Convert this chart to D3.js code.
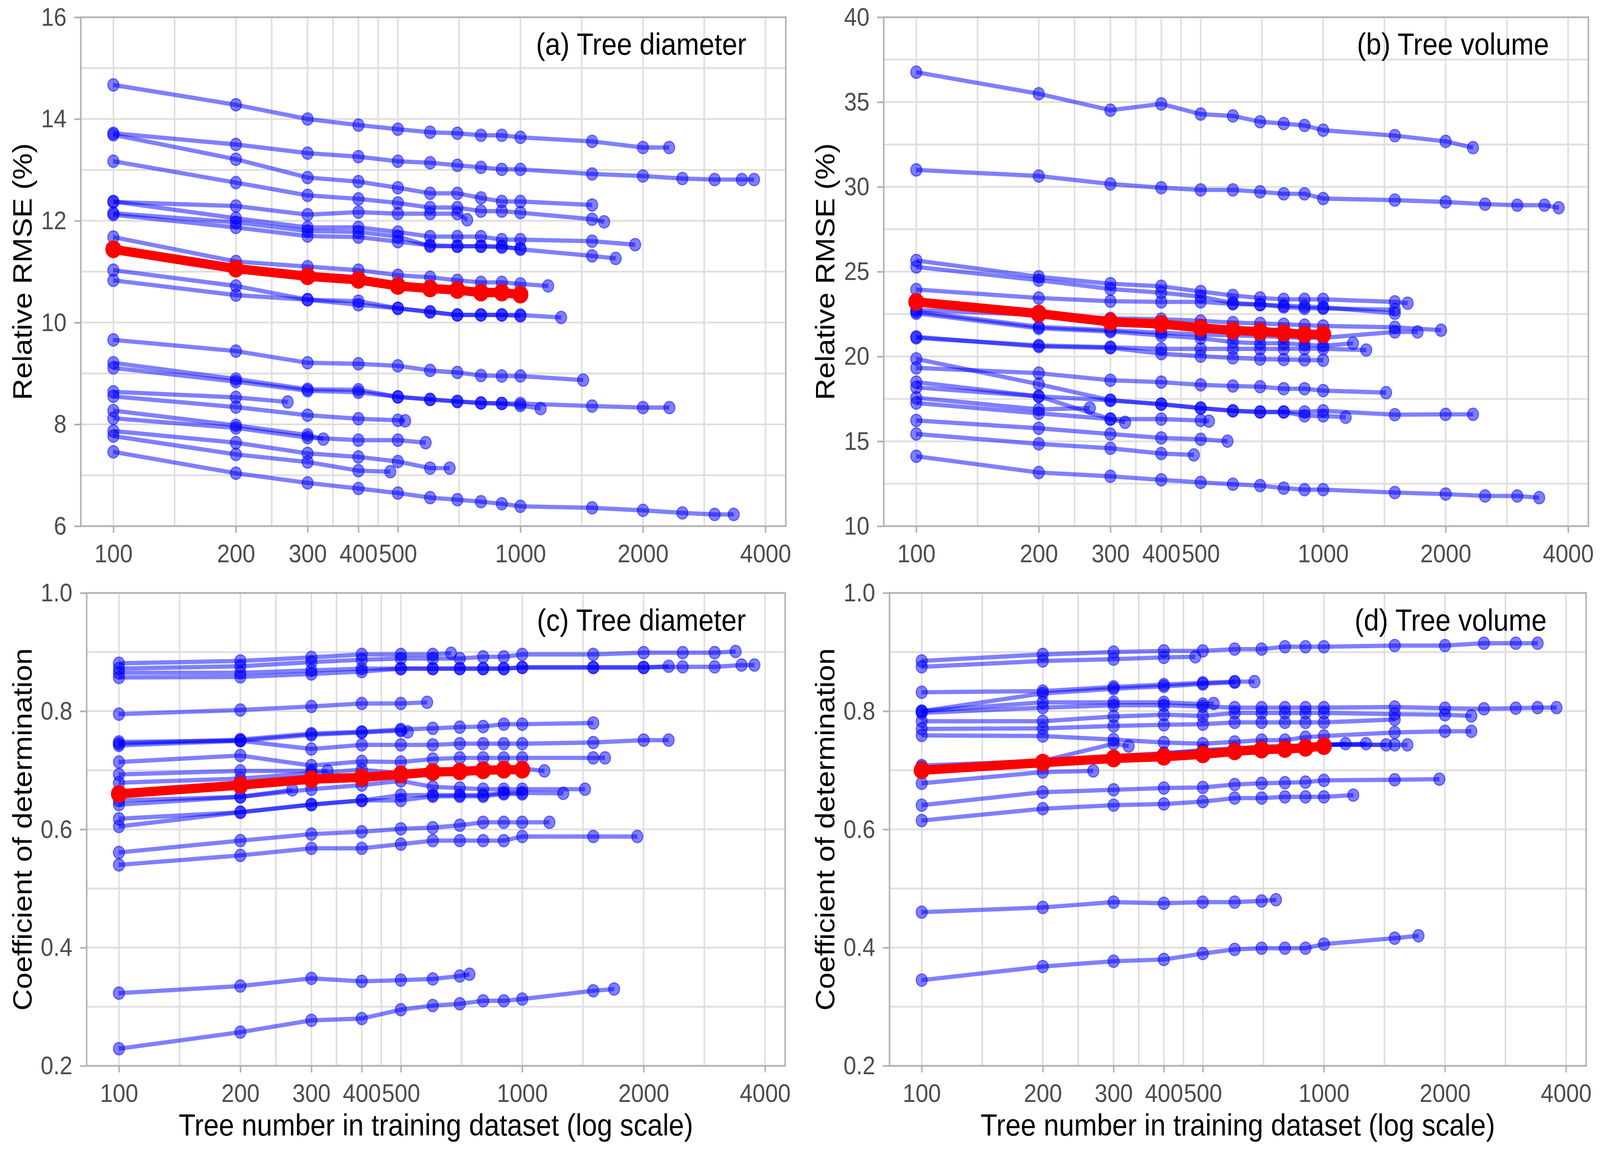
<!DOCTYPE html>
<html><head><meta charset="utf-8">
<script src="https://cdn.jsdelivr.net/npm/d3@7"></script>
<style>html,body{margin:0;padding:0;background:#fff;overflow:hidden;width:100%;height:100%;}svg{display:block;width:100vw;height:71.75vw;}</style>
</head><body><svg id="chart"></svg>
<script>
// ---------------- DATA ----------------
const baseSizes = [100,200,300,400,500,600,700,800,900,1000];
const xTickValues = [100,200,300,400,500,1000,2000,4000];
const rmseDiamTicks = [6,8,10,12,14,16];
const rmseVolTicks = [10,15,20,25,30,35,40];
const r2Ticks = [0.2,0.4,0.6,0.8,1.0];

// (a) relative RMSE, tree diameter: v = values at baseSizes, end = extra [n, value] points
const diamRMSE = [
 {v:[14.67,14.28,14.00,13.88,13.80,13.74,13.72,13.68,13.68,13.64], end:[[1500,13.56],[2000,13.44],[2320,13.44]]},
 {v:[13.72,13.50,13.33,13.26,13.17,13.14,13.09,13.05,13.01,13.01], end:[[1500,12.92],[2000,12.88],[2500,12.83],[3000,12.81],[3500,12.81],[3750,12.81]]},
 {v:[13.69,13.21,12.85,12.77,12.65,12.54,12.54,12.45,12.38,12.38], end:[[1500,12.31]]},
 {v:[13.17,12.75,12.50,12.43,12.35,12.26,12.26,12.19,12.19,12.16], end:[[1500,12.03],[1606,11.98]]},
 {v:[12.37,12.29,12.12,12.17,12.14,12.14,12.14], end:[[740,12.02]]},
 {v:[12.38,12.05,11.87,11.87,11.78,11.69,11.69,11.69,11.63,11.63], end:[[1500,11.60],[1914,11.53]]},
 {v:[12.15,11.97,11.80,11.78,11.69,11.50,11.50,11.50,11.50,11.44], end:[[1500,11.31],[1714,11.26]]},
 {v:[12.12,11.87,11.70,11.68,11.59,11.52,11.50,11.50,11.48,11.46], end:[]},
 {v:[11.68,11.20,11.10,11.03,10.93,10.89,10.83,10.79,10.79,10.76], end:[[1170,10.72]]},
 {v:[11.03,10.72,10.45,10.42,10.28,10.21,10.15,10.15,10.15,10.15], end:[[1259,10.10]]},
 {v:[10.83,10.54,10.45,10.35,10.28,10.21,10.15,10.15,10.15,10.13], end:[]},
 {v:[9.66,9.44,9.21,9.19,9.15,9.06,9.02,8.96,8.95,8.95], end:[[1426,8.87]]},
 {v:[9.21,8.89,8.69,8.68,8.54,8.49,8.45,8.42,8.41,8.41], end:[[1500,8.36],[2000,8.33],[2323,8.33]]},
 {v:[9.11,8.84,8.66,8.63,8.54,8.49,8.45,8.42,8.41,8.37], end:[[1121,8.31]]},
 {v:[8.64,8.53], end:[[268,8.44]]},
 {v:[8.55,8.34,8.18,8.11,8.08], end:[[521,8.07]]},
 {v:[8.27,7.98,7.79], end:[[328,7.71]]},
 {v:[8.12,7.93,7.74,7.69,7.69], end:[[585,7.64]]},
 {v:[7.87,7.64,7.43,7.36,7.27,7.14], end:[[670,7.14]]},
 {v:[7.77,7.41,7.26,7.09], end:[[479,7.07]]},
 {v:[7.46,7.04,6.85,6.74,6.65,6.56,6.52,6.48,6.44,6.39], end:[[1500,6.36],[2000,6.31],[2500,6.26],[3000,6.23],[3342,6.23]]}
];
const diamRMSEMean = [11.44,11.06,10.91,10.84,10.72,10.67,10.64,10.59,10.59,10.55];

// (b) relative RMSE, tree volume
const volRMSE = [
 {v:[36.76,35.49,34.52,34.89,34.29,34.18,33.84,33.73,33.62,33.34], end:[[1500,33.02],[2000,32.68],[2335,32.31]]},
 {v:[31.00,30.64,30.17,29.95,29.82,29.82,29.71,29.59,29.59,29.31], end:[[1500,29.22],[2000,29.11],[2500,28.98],[3000,28.92],[3500,28.92],[3793,28.77]]},
 {v:[25.66,24.70,24.29,24.14,23.83,23.60,23.45,23.37,23.37,23.37], end:[[1500,23.22],[1613,23.14]]},
 {v:[25.28,24.50,23.98,23.76,23.53,23.15,23.07,22.92,22.84,22.84], end:[[1500,22.76]]},
 {v:[23.95,23.45,23.26,23.22,23.22,23.10,23.05,23.00,22.95,22.90], end:[[1500,22.55]]},
 {v:[22.75,22.45,22.25,22.20,22.10,22.00,21.95,21.90,21.85,21.80], end:[[1500,21.72],[1949,21.55]]},
 {v:[22.65,21.75,21.55,21.40,21.30,21.25,21.20,21.15,21.10,21.10], end:[[1500,21.45],[1706,21.45]]},
 {v:[22.55,21.66,21.47,21.24,21.08,20.85,20.78,20.78,20.70,20.63], end:[[1184,20.78]]},
 {v:[21.16,20.59,20.51,20.17,20.02,19.92,19.85,19.82,19.80,19.78], end:[]},
 {v:[21.10,20.65,20.55,20.45,20.45,20.45,20.45,20.45,20.46,20.46], end:[[1276,20.38]]},
 {v:[19.33,19.02,18.60,18.49,18.33,18.26,18.22,18.10,18.10,17.99], end:[[1428,17.87]]},
 {v:[19.86,18.37,17.42,17.19,16.96,16.80,16.73,16.73,16.73,16.80], end:[[1500,16.57],[2000,16.59],[2335,16.59]]},
 {v:[18.49,17.65,17.42,17.19,16.96,16.80,16.73,16.73,16.50,16.50], end:[[1136,16.42]]},
 {v:[18.18,17.65,16.31,16.31,16.23], end:[[524,16.19]]},
 {v:[17.57,16.88], end:[[267,16.96]]},
 {v:[17.26,16.65,16.31], end:[[326,16.12]]},
 {v:[16.23,15.77,15.43,15.20,15.12], end:[[582,15.01]]},
 {v:[15.43,14.85,14.59,14.28], end:[[481,14.20]]},
 {v:[14.12,13.16,12.94,12.73,12.58,12.47,12.39,12.24,12.15,12.15], end:[[1500,11.98],[2000,11.89],[2500,11.78],[3000,11.78],[3396,11.68]]}
];
const volRMSEMean = [23.22,22.53,22.04,21.92,21.69,21.54,21.47,21.39,21.31,21.31];

// (c) coefficient of determination, tree diameter
const diamR2 = [
 {v:[0.881,0.885,0.891,0.896,0.896,0.896], end:[[666,0.898]]},
 {v:[0.872,0.876,0.883,0.887,0.889,0.889,0.889,0.892,0.892,0.896], end:[[1500,0.896],[2000,0.899],[2500,0.899],[3000,0.899],[3381,0.901]]},
 {v:[0.865,0.865,0.869,0.872,0.872,0.872,0.872,0.872,0.872,0.874], end:[[1500,0.874],[2000,0.874],[2307,0.876]]},
 {v:[0.857,0.858,0.863,0.867,0.872,0.872,0.872,0.872,0.872,0.874], end:[[1500,0.874],[2000,0.874],[2500,0.875],[3000,0.875],[3497,0.878],[3764,0.878]]},
 {v:[0.795,0.802,0.808,0.813,0.813], end:[[581,0.815]]},
 {v:[0.745,0.752,0.762,0.765,0.769,0.771,0.773,0.774,0.778,0.778], end:[[1500,0.780]]},
 {v:[0.748,0.750,0.760,0.764,0.767], end:[[520,0.765]]},
 {v:[0.742,0.750,0.736,0.743,0.743,0.743,0.745,0.745,0.745,0.745], end:[[1500,0.747],[2000,0.751],[2307,0.751]]},
 {v:[0.714,0.725,0.708,0.715,0.714,0.719,0.721,0.721,0.721,0.721], end:[[1500,0.721],[1604,0.721]]},
 {v:[0.693,0.699,0.699], end:[[329,0.699]]},
 {v:[0.679,0.686,0.695,0.701,0.695,0.697,0.698,0.700,0.701,0.703], end:[[1135,0.699]]},
 {v:[0.649,0.655], end:[[269,0.667]]},
 {v:[0.642,0.655,0.668,0.675,0.682,0.672,0.670,0.668,0.668,0.668], end:[[1431,0.668]]},
 {v:[0.618,0.629,0.642,0.649,0.658,0.658,0.658,0.658,0.662,0.662], end:[[1264,0.661]]},
 {v:[0.605,0.629,0.642,0.649,0.649,0.656,0.656,0.656,0.660,0.660], end:[]},
 {v:[0.561,0.581,0.592,0.596,0.601,0.603,0.607,0.612,0.612,0.612], end:[[1168,0.612]]},
 {v:[0.540,0.556,0.568,0.568,0.575,0.581,0.581,0.581,0.581,0.588], end:[[1500,0.588],[1929,0.588]]},
 {v:[0.323,0.335,0.348,0.343,0.345,0.347,0.352], end:[[740,0.355]]},
 {v:[0.229,0.257,0.277,0.280,0.295,0.302,0.305,0.310,0.310,0.313], end:[[1500,0.327],[1690,0.330]]}
];
const diamR2Mean = [0.660,0.675,0.685,0.688,0.693,0.697,0.698,0.700,0.701,0.701];

// (d) coefficient of determination, tree volume
const volR2 = [
 {v:[0.885,0.896,0.900,0.902,0.902,0.905,0.905,0.909,0.909,0.909], end:[[1500,0.911],[2000,0.911],[2500,0.915],[3000,0.915],[3400,0.915]]},
 {v:[0.875,0.885,0.888,0.891], end:[[479,0.892]]},
 {v:[0.832,0.834,0.841,0.845,0.848,0.850], end:[[672,0.850]]},
 {v:[0.800,0.830,0.838,0.842,0.846,0.849], end:[]},
 {v:[0.800,0.815,0.815,0.815,0.812], end:[[532,0.813]]},
 {v:[0.797,0.806,0.810,0.810,0.808,0.806,0.806,0.806,0.806,0.806], end:[[1500,0.807],[2000,0.805],[2500,0.804],[3000,0.805],[3400,0.806],[3788,0.806]]},
 {v:[0.783,0.783,0.791,0.794,0.792,0.797,0.797,0.797,0.797,0.797], end:[[1500,0.795],[2000,0.794],[2326,0.792]]},
 {v:[0.770,0.771,0.775,0.777,0.778,0.781,0.781,0.781,0.781,0.781], end:[[1500,0.786]]},
 {v:[0.759,0.758,0.752,0.747,0.745,0.748,0.751,0.751,0.756,0.758], end:[[1500,0.764],[2000,0.766],[2326,0.766]]},
 {v:[0.708,0.716,0.745], end:[[327,0.741]]},
 {v:[0.700,0.713,0.721,0.724,0.730,0.733,0.736,0.738,0.740,0.742], end:[[1132,0.745]]},
 {v:[0.702,0.712,0.720,0.726,0.731,0.735,0.737,0.740,0.741,0.743], end:[[1273,0.745]]},
 {v:[0.698,0.715,0.722,0.728,0.733,0.736,0.739,0.740,0.742,0.743], end:[[1428,0.743]]},
 {v:[0.705,0.716,0.724,0.729,0.734,0.737,0.740,0.741,0.742,0.744], end:[[1500,0.743],[1613,0.743]]},
 {v:[0.678,0.697], end:[[267,0.699]]},
 {v:[0.641,0.663,0.667,0.670,0.671,0.676,0.678,0.679,0.680,0.683], end:[[1500,0.684],[1937,0.685]]},
 {v:[0.615,0.635,0.641,0.643,0.647,0.653,0.653,0.655,0.655,0.655], end:[[1183,0.658]]},
 {v:[0.460,0.468,0.477,0.475,0.477,0.477,0.479], end:[[760,0.481]]},
 {v:[0.345,0.368,0.377,0.380,0.390,0.397,0.399,0.399,0.399,0.406], end:[[1500,0.416],[1719,0.420]]}
];
const volR2Mean = [0.700,0.713,0.720,0.723,0.727,0.732,0.735,0.736,0.738,0.741];

// ---------------- LAYOUT ----------------
const W = 4146, H = 2963;
const S = 0.9;            // horizontal squeeze of the original raster
const FONT = "'Liberation Sans', Arial, Helvetica, sans-serif";
const svg = d3.select('#chart')
  .attr('viewBox', `0 0 ${W/S} ${H}`)
  .attr('preserveAspectRatio', 'none');
svg.append('rect').attr('width', W/S).attr('height', H).attr('fill', '#fff');

const xDomain = [Math.pow(10,1.92), Math.pow(10,3.652)];
const minorOf = t => t.slice(1).map((d,i) => Math.sqrt(d*t[i]));
const midOf = t => t.slice(1).map((d,i) => (d+t[i])/2);

const panels = [
 {data:diamRMSE, mean:diamRMSEMean, yDom:[6,16], yTicks:rmseDiamTicks, fmt:d3.format('d'),
  x0:209.4, x1:2036.2, y0:44.5, y1:1358.5, title:'(a) Tree diameter', ytitle:'Relative RMSE (%)', ytx:58, xtitle:false},
 {data:volRMSE, mean:volRMSEMean, yDom:[10,40], yTicks:rmseVolTicks, fmt:d3.format('d'),
  x0:2290, x1:4116, y0:44.5, y1:1358.5, title:'(b) Tree volume', ytitle:'Relative RMSE (%)', ytx:2138, xtitle:false},
 {data:diamR2, mean:diamR2Mean, yDom:[0.2,1.0], yTicks:r2Ticks, fmt:d3.format('.1f'),
  x0:224.6, x1:2034.6, y0:1531, y1:2752, title:'(c) Tree diameter', ytitle:'Coefficient of determination', ytx:58, xtitle:true},
 {data:volR2, mean:volR2Mean, yDom:[0.2,1.0], yTicks:r2Ticks, fmt:d3.format('.1f'),
  x0:2305, x1:4110, y0:1531, y1:2752, title:'(d) Tree volume', ytitle:'Coefficient of determination', ytx:2138, xtitle:true}
];

const toPts = s => baseSizes.slice(0, s.v.length).map((n,i) => [n, s.v[i]]).concat(s.end || []);

panels.forEach(p => {
  const x = d3.scaleLog().domain(xDomain).range([p.x0/S, p.x1/S]);
  const y = d3.scaleLinear().domain(p.yDom).range([p.y1, p.y0]);
  const g = svg.append('g');
  const L = p.x0/S, R = p.x1/S;

  // grid
  const grid = g.append('g').attr('stroke', '#dedede').attr('stroke-width', 4.5);
  midOf(p.yTicks).concat(p.yTicks).forEach(v => {
    grid.append('line').attr('x1', L).attr('x2', R).attr('y1', y(v)).attr('y2', y(v));
  });
  minorOf(xTickValues).concat(xTickValues).filter(v => v > xDomain[0] && v < xDomain[1]).forEach(v => {
    grid.append('line').attr('x1', x(v)).attr('x2', x(v)).attr('y1', p.y0).attr('y2', p.y1);
  });

  // series
  const clip = 'clip' + p.title.charAt(1);
  svg.append('clipPath').attr('id', clip).append('rect')
    .attr('x', L).attr('y', p.y0).attr('width', R - L).attr('height', p.y1 - p.y0);
  const data = g.append('g').attr('clip-path', `url(#${clip})`);
  const line = d3.line().x(d => x(d[0])).y(d => y(d[1]));
  p.data.forEach(s => {
    const pts = toPts(s);
    data.append('path').datum(pts).attr('d', line)
      .attr('fill', 'none').attr('stroke', 'blue').attr('stroke-opacity', 0.5)
      .attr('stroke-width', 11).attr('stroke-linejoin', 'round');
    data.selectAll(null).data(pts).enter().append('circle')
      .attr('cx', d => x(d[0])).attr('cy', d => y(d[1])).attr('r', 16)
      .attr('fill', 'blue').attr('fill-opacity', 0.5)
      .attr('stroke', 'blue').attr('stroke-opacity', 0.5).attr('stroke-width', 3);
  });
  const meanPts = p.mean.map((v,i) => [baseSizes[i], v]);
  data.append('path').datum(meanPts).attr('d', line)
    .attr('fill', 'none').attr('stroke', 'red').attr('stroke-width', 24).attr('stroke-linejoin', 'round');
  data.selectAll(null).data(meanPts).enter().append('circle')
    .attr('cx', d => x(d[0])).attr('cy', d => y(d[1])).attr('r', 23).attr('fill', 'red');

  // border
  g.append('rect').attr('x', L).attr('y', p.y0).attr('width', R - L).attr('height', p.y1 - p.y0)
    .attr('fill', 'none').attr('stroke', '#b3b3b3').attr('stroke-width', 4.5);

  // axes
  const ax = g.append('g').attr('transform', `translate(0,${p.y1})`)
    .call(d3.axisBottom(x).tickValues(xTickValues).tickFormat(d3.format('d')).tickSize(17).tickPadding(29));
  const ay = g.append('g').attr('transform', `translate(${L},0)`)
    .call(d3.axisLeft(y).tickValues(p.yTicks).tickFormat(p.fmt).tickSize(19).tickPadding(22));
  [ax, ay].forEach(a => {
    a.select('.domain').remove();
    a.selectAll('.tick line').attr('stroke', '#b3b3b3').attr('stroke-width', 4.5);
    a.selectAll('.tick text').attr('fill', '#4d4d4d').style('font-family', FONT).style('font-size', '66px');
  });

  // panel label
  g.append('text').attr('x', R - 102/S).attr('y', p.y0 + 97).attr('text-anchor', 'end')
    .style('font-family', FONT).style('font-size', '79px').attr('fill', '#000').text(p.title);

  // y title
  g.append('text').attr('transform', `translate(${p.ytx/S},${(p.y0+p.y1)/2}) rotate(-90)`)
    .attr('text-anchor', 'middle').attr('dominant-baseline', 'central')
    .style('font-family', FONT).style('font-size', '77px').attr('fill', '#000').text(p.ytitle);

  // x title
  if (p.xtitle) {
    g.append('text').attr('x', (L+R)/2).attr('y', 2932).attr('text-anchor', 'middle')
      .style('font-family', FONT).style('font-size', '79px').attr('fill', '#000')
      .text('Tree number in training dataset (log scale)');
  }
});
</script></body></html>
